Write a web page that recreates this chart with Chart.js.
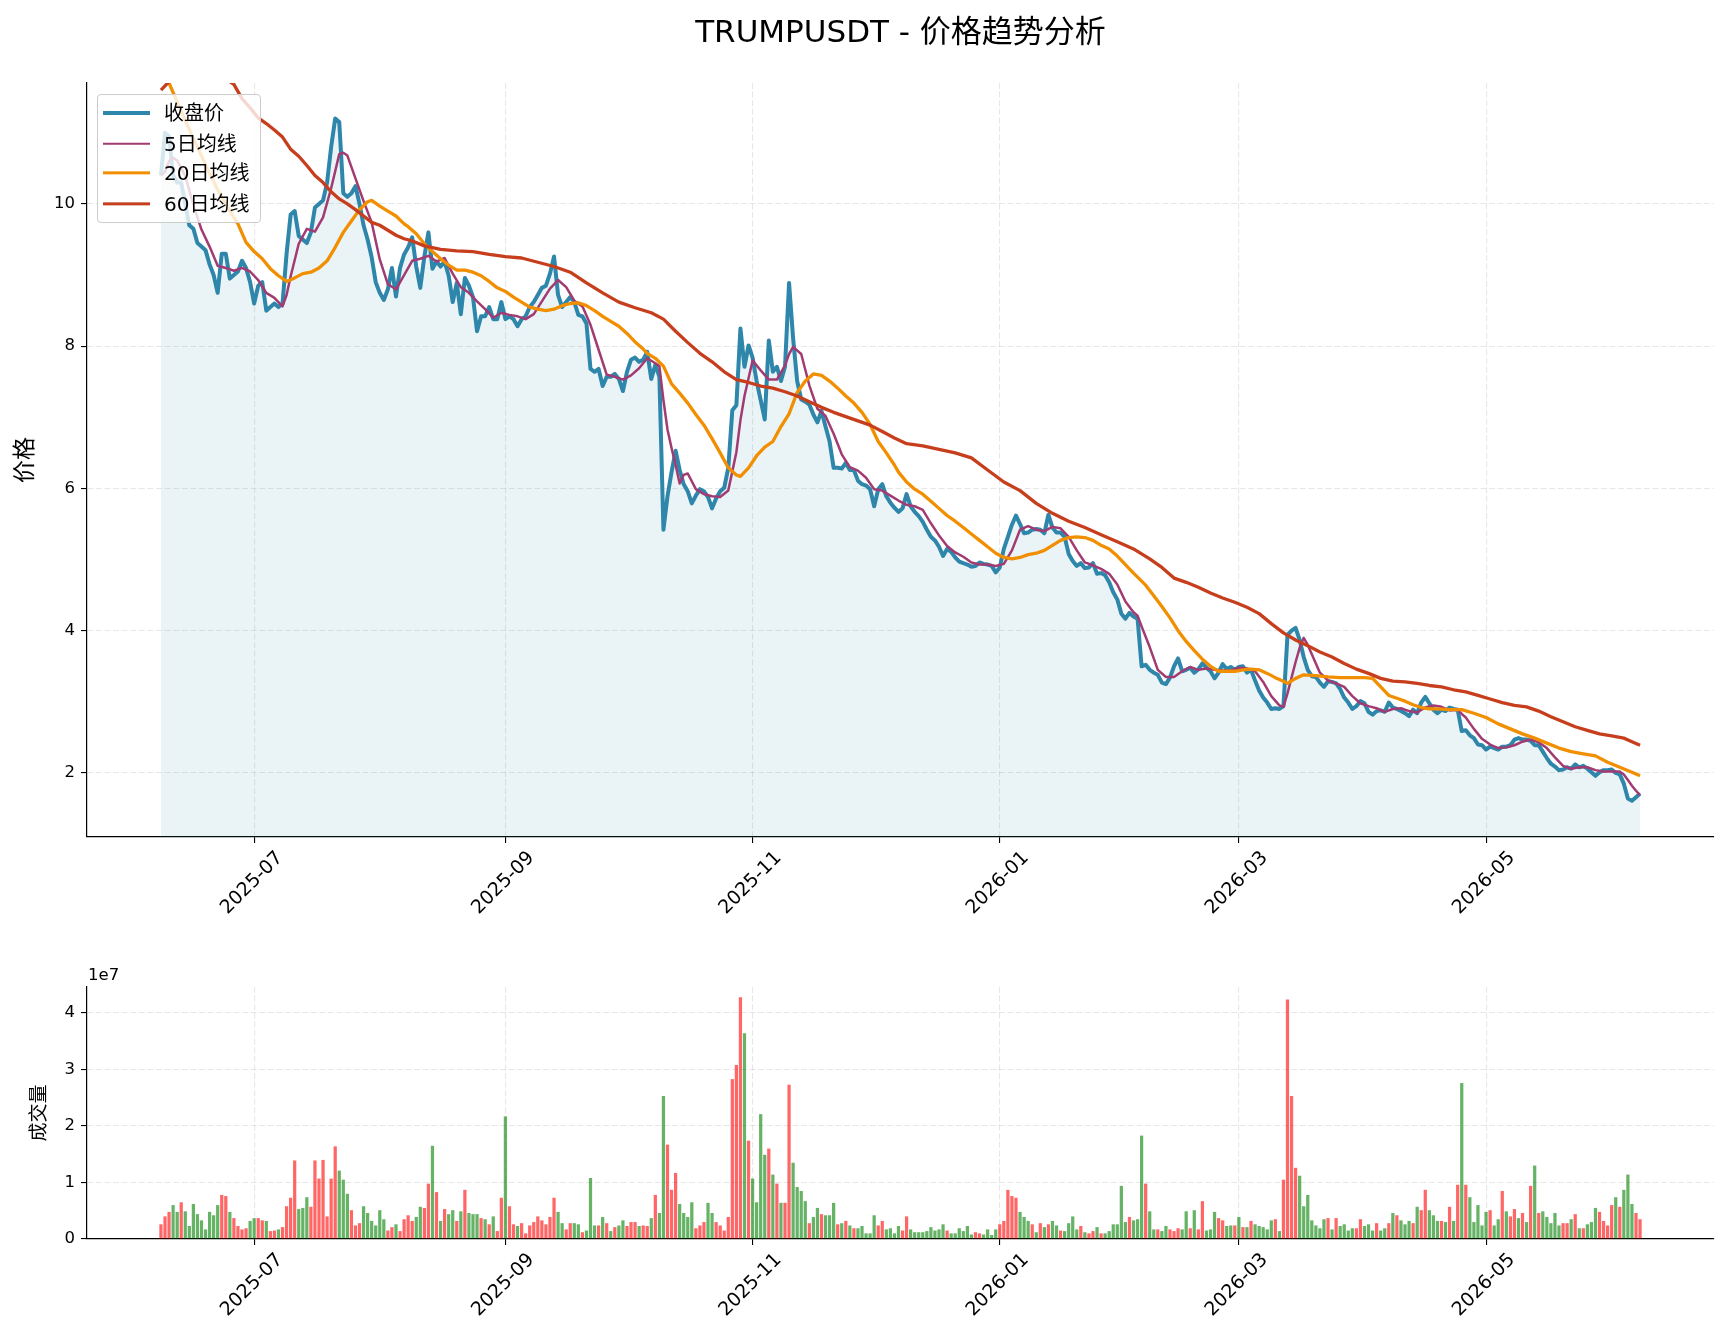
<!DOCTYPE html>
<html>
<head>
<meta charset="utf-8">
<script src="https://cdn.jsdelivr.net/npm/chart.js@4.4.1/dist/chart.umd.min.js"></script>
<style>
html,body{margin:0;padding:0;background:#fff;}
body{width:1729px;height:1338px;position:relative;overflow:hidden;font-family:"DejaVu Sans","Noto Sans CJK SC",sans-serif;color:#000;}
#priceCanvas{position:absolute;left:0;top:0;}
#volCanvas{position:absolute;left:0;top:960px;}
#title{position:absolute;left:87px;width:1627px;top:13px;text-align:center;font-size:31px;line-height:36px;white-space:nowrap;}
#offset{position:absolute;left:88px;top:965px;font-size:16.5px;line-height:20px;}
#legend{position:absolute;left:97px;top:94px;width:164px;height:129px;box-sizing:border-box;border:1px solid #cccccc;border-radius:4px;background:rgba(255,255,255,0.8);}
#legend .row{position:absolute;left:0;height:30px;width:100%;}
#legend .h{position:absolute;left:5px;width:47px;top:50%;transform:translateY(-50%);}
#legend .t{position:absolute;left:66px;top:0;line-height:30px;font-size:20px;white-space:nowrap;}
</style>
</head>
<body>
<canvas id="priceCanvas" width="1729" height="960"></canvas>
<canvas id="volCanvas" width="1729" height="378"></canvas>
<div id="title">TRUMPUSDT - 价格趋势分析</div>
<div id="offset">1e7</div>
<div id="legend"></div>
<script>
// ---- data (day 0 = 2025-06-08, one point per day to 2026-06-08) ----
const startDate = '2025-06-08';
const tickDays = [23, 85, 146, 207, 266, 327];
const tickLabels = ['2025-07', '2025-09', '2025-11', '2026-01', '2026-03', '2026-05'];
const priceTicks = [2, 4, 6, 8, 10];
const volTicks = [0, 10, 20, 30, 40];          // millions
const volTickLabels = ['0', '1', '2', '3', '4']; // x 1e7

const close = [
10.40,11.00,10.95,10.40,10.30,10.30,10.00,9.70,9.65,9.45,
9.40,9.35,9.15,9.00,8.75,9.30,9.30,8.95,9.00,9.05,
9.20,9.10,8.90,8.60,8.85,8.90,8.50,8.55,8.60,8.55,
8.60,9.30,9.85,9.90,9.55,9.50,9.45,9.60,9.95,10.00,
10.05,10.30,10.80,11.20,11.15,10.15,10.10,10.15,10.25,10.00,
9.70,9.50,9.25,8.90,8.75,8.65,8.80,9.10,8.70,9.10,
9.29,9.39,9.53,9.12,8.82,9.26,9.60,9.09,9.19,9.12,
9.19,8.99,8.62,8.89,8.45,8.96,8.85,8.69,8.21,8.42,
8.42,8.55,8.38,8.38,8.62,8.38,8.42,8.38,8.28,8.38,
8.42,8.55,8.62,8.72,8.82,8.85,9.02,9.26,8.72,8.55,
8.62,8.69,8.62,8.44,8.42,8.32,7.68,7.64,7.68,7.44,
7.57,7.57,7.61,7.54,7.37,7.64,7.81,7.84,7.78,7.81,
7.92,7.54,7.74,7.57,5.42,5.89,6.23,6.53,6.26,6.06,
5.96,5.79,5.90,5.99,5.96,5.88,5.72,5.86,5.96,6.01,
6.29,7.10,7.17,8.25,7.71,8.01,7.84,7.51,7.24,6.97,
8.08,7.64,7.71,7.51,7.71,8.89,8.11,7.51,7.25,7.22,
7.18,7.04,6.93,7.09,6.87,6.66,6.29,6.29,6.28,6.36,
6.26,6.26,6.11,6.06,6.04,5.99,5.75,5.99,6.06,5.89,
5.80,5.73,5.67,5.72,5.92,5.75,5.67,5.61,5.53,5.42,
5.32,5.27,5.18,5.05,5.15,5.11,5.03,4.97,4.95,4.93,
4.90,4.91,4.96,4.94,4.93,4.91,4.82,4.89,5.15,5.32,
5.49,5.62,5.50,5.37,5.38,5.42,5.43,5.42,5.37,5.63,
5.45,5.38,5.38,5.32,5.08,4.98,4.91,4.95,4.88,4.89,
4.95,4.80,4.81,4.78,4.68,4.54,4.44,4.24,4.17,4.25,
4.20,4.17,3.50,3.52,3.45,3.41,3.38,3.27,3.25,3.34,
3.50,3.61,3.43,3.45,3.48,3.41,3.46,3.54,3.48,3.43,
3.33,3.41,3.53,3.46,3.49,3.45,3.49,3.50,3.41,3.45,
3.30,3.16,3.06,2.99,2.90,2.91,2.90,2.94,3.94,4.00,
4.04,3.87,3.63,3.45,3.36,3.35,3.27,3.21,3.29,3.28,
3.26,3.18,3.06,2.99,2.90,2.94,3.01,2.98,2.86,2.82,
2.87,2.88,2.86,2.99,2.92,2.90,2.87,2.84,2.80,2.89,
2.84,2.99,3.07,2.98,2.89,2.84,2.89,2.87,2.92,2.90,
2.89,2.59,2.60,2.53,2.49,2.40,2.39,2.33,2.37,2.35,
2.33,2.37,2.37,2.39,2.47,2.49,2.47,2.47,2.45,2.39,
2.39,2.30,2.21,2.13,2.09,2.04,2.05,2.08,2.06,2.12,
2.08,2.10,2.06,2.01,1.96,2.01,2.04,2.04,2.05,2.00,
1.98,1.85,1.64,1.61,1.66,1.71
];

// volume in millions
const volume = [
2.6,4.0,4.8,6.0,4.8,6.5,4.9,2.3,6.2,4.4,
3.3,1.7,4.8,4.2,6.0,7.8,7.6,4.8,3.7,2.3,
1.7,1.9,3.2,3.7,3.7,3.3,3.2,1.4,1.5,1.7,
2.1,5.8,7.3,13.9,5.3,5.5,7.4,5.7,13.9,10.7,
14.0,4.0,10.7,16.4,12.1,10.5,8.0,5.1,2.4,2.8,
5.8,4.6,3.2,2.4,5.1,3.5,1.5,2.1,2.6,1.4,
3.5,4.2,3.2,3.9,5.7,5.5,9.8,16.5,8.3,3.2,
5.3,4.4,5.1,3.2,4.9,8.7,4.6,4.4,4.4,3.7,
3.5,2.6,4.0,1.4,7.3,21.7,5.8,2.6,2.3,2.8,
1.0,2.4,3.0,4.0,3.3,2.6,3.9,7.3,4.8,2.8,
1.7,2.8,2.8,2.6,1.2,1.5,10.8,2.4,2.4,3.9,
2.8,1.4,2.1,2.4,3.3,2.3,3.0,3.0,2.3,2.4,
2.3,3.7,7.8,4.6,25.3,16.7,8.7,11.7,6.2,4.6,
3.9,6.5,1.9,2.4,3.0,6.4,4.6,3.0,2.4,1.5,
3.9,28.3,30.8,42.8,36.4,17.4,10.7,6.5,22.1,14.9,
16.0,11.4,9.8,6.4,6.4,27.3,13.5,9.2,8.5,6.7,
2.8,3.9,5.5,4.4,4.2,4.2,6.4,2.6,2.8,3.2,
2.4,1.9,1.9,2.3,1.0,1.0,4.2,2.4,3.2,1.7,
1.9,1.0,2.3,1.5,4.0,1.7,1.2,1.2,1.2,1.4,
2.1,1.5,1.7,2.6,1.5,1.0,1.0,1.9,1.4,2.3,
0.8,1.2,1.0,0.8,1.7,0.7,1.7,2.6,3.2,8.7,
7.6,7.3,4.8,3.9,3.2,2.6,1.2,2.8,2.1,2.6,
3.2,2.4,1.5,1.4,2.8,4.0,1.7,2.3,1.2,1.0,
1.4,2.1,1.0,1.0,1.4,2.6,2.6,9.4,3.0,3.9,
3.3,3.5,18.3,9.8,4.9,1.7,1.7,1.4,2.3,1.7,
1.4,1.9,1.7,4.9,1.9,5.1,1.7,6.7,1.5,1.7,
4.8,3.7,3.3,2.3,2.4,2.4,3.9,2.1,2.1,3.2,
2.6,2.3,2.1,1.7,3.3,3.5,1.4,10.5,42.4,25.3,
12.6,11.2,5.8,7.8,3.3,2.4,1.9,3.5,3.7,1.7,
3.7,2.3,2.6,1.5,1.9,1.9,3.5,2.3,2.6,1.5,
2.8,1.5,1.9,2.8,4.6,4.2,3.3,2.6,3.2,2.8,
5.7,5.1,8.7,5.1,4.2,3.2,3.2,3.0,5.7,3.2,
9.6,27.6,9.6,7.4,3.0,6.0,2.4,4.8,5.1,2.4,
3.5,8.5,4.9,4.0,5.3,3.7,4.6,3.0,9.4,13.0,
4.6,4.9,3.9,2.8,4.6,2.4,2.8,2.8,3.5,4.4,
1.9,1.9,2.6,3.0,5.5,4.8,3.2,2.4,6.0,7.4,
5.7,8.7,11.4,6.2,4.6,3.5
];

// R = up day (red bar), G = down day (green bar)
const volDir = (
"RRRGGRGGGG" + "GGGGGRRGRR" + "RRGGRRGRRG" + "RRRRGGGRRR" + "RRRRGGGRRR" +
"GGGGGGRRGR" + "RRRGGRRGRG" + "RGGRGRGGGR" + "GRGRRGRRGR" + "RRRRRRRRGG" +
"RRGGRGGGRG" + "RGRGGRRRGR" + "RGRGGRRRGG" + "GGRRRGGRRR" + "RRRRGRGGGG" +
"RGRGRRGGGG" + "RGGRGGGRGR" + "GRGGGGGRRG" + "GGGRRGGGGG" + "GGGGRGGGGG" +
"GRRGGGGRRR" + "RRGGGRGRGR" + "GGRGGGGRGR" + "RGRGGGGGGR" + "GGGRGGRGGR" +
"RRGGRGRRGG" + "GRRGGRGRGR" + "GGGGGRGRRR" + "RGGGGGGGRG" + "RGGGGRRGGG" +
"RGGRGRGGGR" + "GRRGGGRGRG" + "RGRGGGGGRG" + "GRGRRGRGRG" + "RGGGGGRRGR" +
"GRGGGRRRRG" + "RGGGRR").split('');

// moving averages: [day, value]
const ma5 = [
[0,10.40],[1,10.45],[2,10.60],[3,10.65],[4,10.61],[6,10.39],[8,9.99],[10,9.64],[12,9.40],[14,9.13],
[16,9.10],[18,9.06],[20,9.10],[22,9.05],[24,8.93],[26,8.75],[28,8.68],[30,8.56],[31,8.72],[32,8.98],
[34,9.44],[36,9.65],[38,9.61],[40,9.81],[42,10.22],[44,10.70],[45,10.72],[46,10.68],[48,10.36],[50,10.04],
[52,9.74],[54,9.22],[56,8.87],[58,8.80],[60,9.00],[62,9.20],[64,9.23],[66,9.27],[68,9.19],[70,9.24],
[72,9.02],[74,8.83],[76,8.75],[78,8.63],[80,8.52],[82,8.40],[84,8.47],[86,8.44],[88,8.42],[90,8.38],
[92,8.45],[94,8.63],[96,8.81],[98,8.93],[100,8.83],[102,8.64],[104,8.56],[106,8.30],[108,7.95],[110,7.60],
[112,7.57],[114,7.53],[116,7.59],[118,7.69],[120,7.83],[122,7.76],[123,7.72],[124,7.24],[125,6.83],[126,6.57],
[127,6.33],[128,6.07],[129,6.19],[130,6.21],[132,5.99],[134,5.92],[136,5.89],[138,5.88],[140,5.97],[141,6.24],
[142,6.51],[143,6.96],[144,7.30],[146,7.80],[148,7.66],[150,7.53],[152,7.53],[154,7.73],[155,7.89],[156,7.99],
[158,7.89],[160,7.45],[162,7.12],[164,7.02],[166,6.77],[168,6.48],[170,6.30],[172,6.25],[174,6.15],[176,5.99],
[178,5.97],[180,5.90],[182,5.83],[184,5.77],[186,5.75],[188,5.70],[190,5.51],[192,5.34],[194,5.19],[196,5.10],
[198,5.04],[200,4.96],[202,4.93],[204,4.93],[206,4.91],[208,4.94],[210,5.13],[212,5.42],[214,5.47],[216,5.42],
[218,5.40],[220,5.46],[222,5.44],[224,5.32],[226,5.13],[228,4.96],[230,4.92],[232,4.87],[234,4.80],[236,4.65],
[238,4.41],[240,4.26],[241,4.21],[242,4.06],[244,3.77],[246,3.45],[248,3.35],[250,3.35],[252,3.43],[254,3.49],
[256,3.45],[258,3.47],[260,3.45],[262,3.44],[264,3.44],[266,3.48],[268,3.47],[270,3.43],[272,3.28],[274,3.08],
[276,2.95],[277,2.93],[278,3.12],[279,3.34],[280,3.56],[281,3.76],[282,3.90],[283,3.80],[284,3.67],[286,3.41],
[288,3.30],[290,3.26],[292,3.21],[294,3.08],[296,2.98],[298,2.94],[300,2.91],[302,2.86],[304,2.90],[306,2.91],
[308,2.87],[310,2.85],[312,2.92],[314,2.95],[316,2.93],[318,2.88],[320,2.89],[321,2.83],[322,2.78],[324,2.62],
[326,2.48],[328,2.40],[330,2.35],[332,2.36],[334,2.39],[336,2.44],[338,2.47],[340,2.43],[342,2.35],[344,2.22],
[346,2.10],[348,2.06],[350,2.08],[352,2.08],[354,2.04],[356,2.02],[358,2.02],[360,2.02],[361,1.98],[362,1.90],
[363,1.82],[364,1.75],[365,1.69]
];

const ma20 = [
[0,12.10],[1,11.90],[2,11.70],[5,11.30],[8,10.92],[11,10.55],[14,10.20],[17,9.90],[19,9.72],[21,9.46],
[23,9.33],[25,9.23],[27,9.09],[29,8.99],[31,8.91],[33,8.96],[35,9.02],[37,9.04],[39,9.10],[41,9.20],
[43,9.39],[45,9.60],[47,9.76],[49,9.92],[51,10.03],[52,10.05],[54,9.97],[56,9.90],[58,9.83],[60,9.72],
[61,9.68],[63,9.58],[65,9.44],[67,9.33],[69,9.23],[71,9.14],[73,9.07],[75,9.07],[77,9.04],[79,8.99],
[81,8.91],[83,8.82],[85,8.77],[87,8.69],[89,8.62],[91,8.55],[93,8.52],[95,8.50],[97,8.52],[99,8.57],
[101,8.60],[103,8.61],[105,8.57],[107,8.50],[109,8.42],[111,8.35],[113,8.28],[115,8.18],[117,8.06],[119,7.96],
[120,7.90],[122,7.83],[124,7.72],[126,7.47],[128,7.34],[130,7.20],[132,7.04],[134,6.89],[136,6.70],[138,6.50],
[140,6.29],[142,6.19],[143,6.17],[145,6.29],[147,6.46],[149,6.58],[151,6.66],[153,6.87],[155,7.05],[157,7.35],
[159,7.51],[161,7.61],[163,7.59],[165,7.51],[167,7.41],[169,7.30],[171,7.20],[173,7.07],[175,6.90],[177,6.66],
[179,6.50],[181,6.33],[182,6.23],[184,6.09],[186,5.99],[188,5.92],[190,5.82],[192,5.72],[194,5.62],[196,5.54],
[198,5.45],[200,5.36],[202,5.27],[204,5.18],[206,5.09],[208,5.03],[210,5.01],[212,5.03],[214,5.07],[216,5.09],
[218,5.13],[220,5.20],[222,5.27],[224,5.31],[226,5.32],[228,5.31],[230,5.27],[232,5.20],[234,5.15],[236,5.05],
[238,4.93],[240,4.81],[243,4.64],[245,4.49],[247,4.34],[249,4.18],[251,4.00],[253,3.85],[255,3.72],[257,3.60],
[259,3.50],[261,3.43],[263,3.43],[265,3.43],[267,3.45],[269,3.46],[271,3.45],[273,3.40],[275,3.34],[277,3.29],
[278,3.26],[280,3.33],[282,3.38],[285,3.37],[288,3.35],[291,3.34],[294,3.34],[297,3.34],[299,3.33],[301,3.21],
[303,3.09],[305,3.05],[307,3.01],[309,2.96],[311,2.92],[313,2.90],[315,2.90],[318,2.89],[321,2.89],[324,2.84],
[327,2.78],[330,2.69],[333,2.62],[336,2.55],[339,2.49],[342,2.42],[345,2.35],[348,2.30],[351,2.27],[354,2.24],
[357,2.15],[360,2.08],[363,2.01],[365,1.96]
];

const ma60 = [
[0,11.60],[1,11.66],[2,11.72],[4,11.80],[8,11.88],[12,11.86],[16,11.76],[18,11.68],[20,11.48],[22,11.35],
[24,11.21],[26,11.13],[28,11.04],[30,10.94],[32,10.77],[34,10.67],[36,10.54],[38,10.40],[40,10.30],[42,10.17],
[44,10.07],[46,10.00],[48,9.92],[50,9.83],[52,9.74],[54,9.70],[56,9.63],[58,9.56],[60,9.51],[62,9.48],
[65,9.41],[69,9.36],[73,9.34],[77,9.33],[81,9.29],[85,9.26],[89,9.24],[93,9.18],[97,9.12],[101,9.04],
[105,8.89],[109,8.75],[113,8.62],[117,8.54],[121,8.47],[124,8.38],[127,8.21],[130,8.05],[133,7.90],[136,7.78],
[139,7.64],[142,7.53],[145,7.49],[148,7.44],[151,7.41],[154,7.36],[157,7.30],[160,7.22],[163,7.14],[166,7.07],
[169,7.01],[172,6.95],[175,6.89],[178,6.80],[181,6.71],[184,6.63],[188,6.60],[192,6.55],[196,6.50],[200,6.43],
[204,6.26],[208,6.09],[212,5.97],[216,5.79],[220,5.65],[224,5.54],[228,5.45],[232,5.35],[236,5.25],[240,5.15],
[244,5.01],[247,4.89],[250,4.74],[253,4.68],[256,4.61],[259,4.53],[262,4.46],[265,4.40],[268,4.33],[271,4.24],
[274,4.10],[277,3.97],[280,3.87],[283,3.79],[286,3.70],[289,3.63],[292,3.54],[295,3.46],[298,3.40],[301,3.33],
[304,3.29],[307,3.28],[310,3.26],[313,3.23],[316,3.21],[319,3.17],[322,3.14],[325,3.09],[328,3.04],[331,2.99],
[334,2.95],[337,2.93],[340,2.87],[343,2.79],[346,2.72],[349,2.65],[352,2.60],[355,2.55],[358,2.52],[361,2.49],
[363,2.44],[365,2.39]
];

const seriesNames = ['收盘价', '5日均线', '20日均线', '60日均线'];
const seriesColors = ['#2E86AB', '#A23B72', '#F18F01', '#C73E1D'];
const seriesWidths = [4, 2.5, 3.3, 3.3];

// ---- chart setup ----
const FONT = '"DejaVu Sans", "Noto Sans CJK SC", sans-serif';
const TICK_FONT = { family: FONT, size: 16.5 };
const XTICK_FONT = { family: FONT, size: 19 };
const X_MIN = -18.25, X_MAX = 383.25;

function xAxis(axisHeight) {
  return {
    type: 'linear', min: X_MIN, max: X_MAX, offset: false,
    afterBuildTicks: s => { s.ticks = tickDays.map(v => ({ value: v })); },
    afterFit: s => { s.height = axisHeight; },
    ticks: {
      autoSkip: false, minRotation: 45, maxRotation: 45,
      labelOffset: 26, padding: 4, color: '#000', font: XTICK_FONT,
      callback: v => { const k = tickDays.indexOf(v); return k >= 0 ? tickLabels[k] : ''; }
    },
    grid: { offset: false, color: 'rgba(176,176,176,0.3)', lineWidth: 1.1, drawTicks: true,
            tickLength: 6, tickColor: '#000', tickWidth: 1.1, tickBorderDash: [] },
    border: { display: true, color: '#000', width: 1.2, dash: [6, 2.6] }
  };
}
function yAxis(opts) {
  return {
    type: 'linear', min: opts.min, max: opts.max,
    afterBuildTicks: s => { s.ticks = opts.ticks.map(v => ({ value: v })); },
    afterFit: s => { s.width = 87; },
    ticks: { padding: 6, color: '#000', font: TICK_FONT, callback: opts.cb },
    title: { display: true, text: opts.title, color: '#000',
             font: { family: FONT, size: opts.titleSize }, padding: { top: opts.titlePad, bottom: 0 } },
    grid: { color: 'rgba(176,176,176,0.3)', lineWidth: 1.1, drawTicks: true,
            tickLength: 6, tickColor: '#000', tickWidth: 1.1, tickBorderDash: [] },
    border: { display: true, color: '#000', width: 1.2, dash: [6, 2.6] }
  };
}

const toPts = arr => arr.map(p => ({ x: p[0], y: p[1] }));
const closePts = close.map((v, i) => ({ x: i, y: v }));

new Chart(document.getElementById('priceCanvas'), {
  type: 'line',
  data: {
    datasets: [
      { label: seriesNames[0], data: closePts, borderColor: seriesColors[0], borderWidth: seriesWidths[0],
        fill: 'start', backgroundColor: 'rgba(46,134,171,0.1)', order: 4 },
      { label: seriesNames[1], data: toPts(ma5), borderColor: seriesColors[1], borderWidth: seriesWidths[1], fill: false, order: 3 },
      { label: seriesNames[2], data: toPts(ma20), borderColor: seriesColors[2], borderWidth: seriesWidths[2], fill: false, order: 2 },
      { label: seriesNames[3], data: toPts(ma60), borderColor: seriesColors[3], borderWidth: seriesWidths[3], fill: false, order: 1 }
    ]
  },
  options: {
    responsive: false, animation: false, devicePixelRatio: 1,
    layout: { padding: { left: 0, top: 83, right: 15, bottom: 0 } },
    elements: { point: { radius: 0, hoverRadius: 0 },
                line: { tension: 0, borderJoinStyle: 'round', borderCapStyle: 'butt' } },
    datasets: { line: { clip: 0 } },
    events: [],
    plugins: { legend: { display: false }, tooltip: { enabled: false } },
    scales: {
      x: xAxis(123),
      y: yAxis({ min: 1.1, max: 11.7, ticks: priceTicks, title: '价格', titleSize: 23, titlePad: 12,
                 cb: v => String(v) })
    }
  }
});

new Chart(document.getElementById('volCanvas'), {
  type: 'bar',
  data: {
    datasets: [{
      label: '成交量',
      data: volume.map((v, i) => ({ x: i, y: v })),
      backgroundColor: volDir.map(c => c === 'R' ? 'rgba(255,0,0,0.6)' : 'rgba(0,128,0,0.6)'),
      borderWidth: 0, barPercentage: 0.8, categoryPercentage: 1.0, clip: 0
    }]
  },
  options: {
    responsive: false, animation: false, devicePixelRatio: 1,
    layout: { padding: { left: 0, top: 27, right: 15, bottom: 0 } },
    events: [],
    plugins: { legend: { display: false }, tooltip: { enabled: false } },
    scales: {
      x: xAxis(99),
      y: yAxis({ min: 0, max: 44.6, ticks: volTicks, title: '成交量', titleSize: 19, titlePad: 29,
                 cb: v => { const k = volTicks.indexOf(v); return k >= 0 ? volTickLabels[k] : ''; } })
    }
  }
});

// legend overlay (matplotlib-style box, upper left)
const legendEl = document.getElementById('legend');
const rowCenters = [17.5, 48.5, 78, 108.5];
seriesNames.forEach((name, i) => {
  const row = document.createElement('div');
  row.className = 'row';
  row.style.top = (rowCenters[i] - 15) + 'px';
  const h = document.createElement('span');
  h.className = 'h';
  h.style.height = seriesWidths[i] + 'px';
  h.style.background = seriesColors[i];
  const t = document.createElement('span');
  t.className = 't';
  t.textContent = name;
  row.appendChild(h); row.appendChild(t);
  legendEl.appendChild(row);
});
</script>
</body>
</html>
